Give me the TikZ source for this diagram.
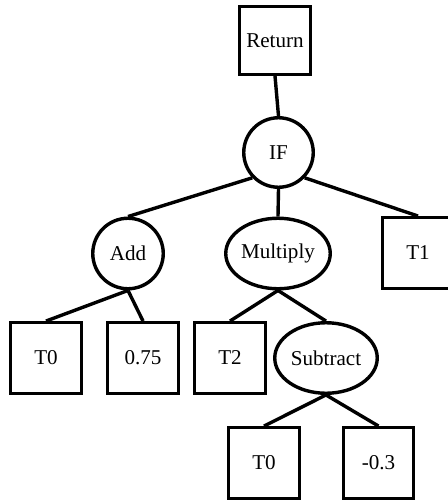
\documentclass[tikz,border=0pt]{standalone}
\usepackage{fontspec}
\setmainfont{Liberation Serif}
\usetikzlibrary{shapes.geometric}
\begin{document}
\begin{tikzpicture}[
        every node/.style={font=\fontsize{12}{14}\selectfont, line width=0.068cm, inner sep=0pt},
        leaf/.style={draw, rectangle, minimum width=1.41cm, minimum height=1.41cm},
        func/.style={draw, ellipse, minimum height=1.41cm},
        link/.style={line width=0.068cm}
    ]
    \useasboundingbox (0, 0) rectangle (8.96, -10.02);
    \node[leaf, minimum height=1.35cm] (ret) at (5.50, -0.81) {Return};
    \node[func, minimum width=1.39cm, minimum height=1.39cm] (if) at (5.57, -3.05) {IF};
    \node[func, minimum width=1.41cm] (add) at (2.56, -5.07) {Add};
    \node[func, minimum width=2.09cm] (mul) at (5.56, -5.07) {Multiply};
    \node[leaf] (t1) at (8.36, -5.06) {T1};
    \node[leaf] (t0a) at (0.92, -7.16) {T0};
    \node[leaf] (c075) at (2.86, -7.16) {0.75};
    \node[leaf] (t2) at (4.60, -7.16) {T2};
    \node[func, minimum width=2.05cm] (sub) at (6.52, -7.16) {Subtract};
    \node[leaf] (t0b) at (5.28, -9.26) {T0};
    \node[leaf] (m03) at (7.57, -9.26) {-0.3};
    \begin{scope}[link]
        \draw (ret.south) -- (if.north);
        \draw (if.224) -- (add.north);
        \draw (if.south) -- (mul.north);
        \draw (if.316) -- (t1.north);
        \draw (add.south) -- (t0a.north);
        \draw (add.south) -- (c075.north);
        \draw (mul.south) -- (t2.north);
        \draw (mul.south) -- (sub.north);
        \draw (sub.south) -- (t0b.north);
        \draw (sub.south) -- (m03.north);
    \end{scope}
\end{tikzpicture}
\end{document}
